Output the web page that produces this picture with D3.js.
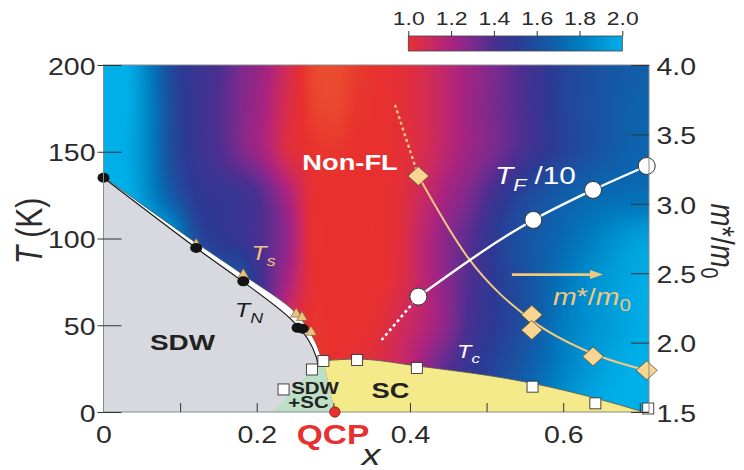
<!DOCTYPE html>
<html>
<head>
<meta charset="utf-8">
<script src="https://cdn.jsdelivr.net/npm/d3@7/dist/d3.min.js"></script>
<style>
  html, body { margin: 0; padding: 0; background: #ffffff; }
  svg { display: block; font-family: "Liberation Sans", Arial, Helvetica, sans-serif; }
</style>
</head>
<body>
<svg id="chart" width="744" height="470"></svg>
<script>
// ---------- axis ticks ----------
const xTickValues = [0, 0.2, 0.4, 0.6];
const xTickLabels = ["0", "0.2", "0.4", "0.6"];
const xMinorTicks = [0.1, 0.2, 0.3, 0.4, 0.5, 0.6, 0.7];
const tTickValues = [0, 50, 100, 150, 200];
const tTickLabels = ["0", "50", "100", "150", "200"];
const mTickValues = [1.5, 2.0, 2.5, 3.0, 3.5, 4.0];
const mTickLabels = ["1.5", "2.0", "2.5", "3.0", "3.5", "4.0"];
const cbTickValues = [1.0, 1.2, 1.4, 1.6, 1.8, 2.0];
const cbTickLabels = ["1.0", "1.2", "1.4", "1.6", "1.8", "2.0"];

// ---------- colour map for the exponent n ----------
const nStops  = [0.9, 1.0, 1.1, 1.2, 1.3, 1.4, 1.5, 1.6, 1.7, 1.8, 1.9, 2.0];
const nColors = ["#ec6a30", "#e8302e", "#cc2a5e", "#aa2380", "#7c2a8e", "#4a2f90",
                 "#2c3a94", "#1c4f9f", "#0c64ae", "#007cc0", "#0096d4", "#00afe8"];

// ---------- exponent n map (rows: T, columns: x) ----------
const gridX = [0, 0.03, 0.06, 0.09, 0.12, 0.15, 0.18, 0.21, 0.24, 0.27, 0.30, 0.33, 0.36,
               0.39, 0.42, 0.45, 0.48, 0.51, 0.54, 0.57, 0.60, 0.63, 0.66, 0.69, 0.72];
const gridT = [0, 25, 50, 75, 100, 125, 150, 175, 200];
const exponentN = [
  [2.0, 2.0, 2.0, 2.0, 1.8, 1.7, 1.6, 1.4, 1.1, 1.0, 1.0, 1.02, 1.05, 1.12, 1.25, 1.4, 1.5, 1.6, 1.7, 1.8, 1.9, 1.96, 2.0, 2.0, 2.0],
  [2.0, 2.0, 2.0, 2.0, 1.8, 1.7, 1.6, 1.4, 1.1, 1.0, 1.0, 1.02, 1.05, 1.12, 1.25, 1.38, 1.47, 1.55, 1.63, 1.72, 1.82, 1.9, 1.96, 2.0, 2.0],
  [2.0, 2.0, 2.0, 2.0, 1.8, 1.7, 1.6, 1.4, 1.1, 1.0, 1.0, 1.0, 1.02, 1.09, 1.17, 1.28, 1.42, 1.5, 1.58, 1.68, 1.8, 1.87, 1.92, 1.97, 2.0],
  [2.0, 2.0, 2.0, 1.9, 1.75, 1.65, 1.6, 1.4, 1.2, 1.02, 1.0, 1.0, 1.0, 1.05, 1.16, 1.28, 1.4, 1.5, 1.58, 1.67, 1.77, 1.86, 1.92, 1.97, 2.0],
  [2.0, 2.0, 2.0, 1.9, 1.6, 1.5, 1.46, 1.38, 1.25, 1.02, 1.0, 1.0, 1.0, 1.04, 1.16, 1.28, 1.38, 1.5, 1.6, 1.66, 1.72, 1.79, 1.86, 1.92, 1.95],
  [2.0, 2.0, 1.85, 1.65, 1.5, 1.47, 1.45, 1.36, 1.2, 1.02, 1.0, 1.0, 1.0, 1.03, 1.12, 1.22, 1.31, 1.43, 1.53, 1.61, 1.67, 1.71, 1.73, 1.74, 1.75],
  [2.0, 1.98, 1.82, 1.58, 1.47, 1.4, 1.3, 1.2, 1.05, 1.0, 0.99, 1.0, 1.0, 1.02, 1.07, 1.16, 1.24, 1.31, 1.39, 1.47, 1.54, 1.6, 1.65, 1.69, 1.71],
  [2.0, 2.0, 1.82, 1.58, 1.46, 1.39, 1.29, 1.2, 1.06, 0.98, 0.96, 0.99, 1.0, 1.02, 1.07, 1.15, 1.24, 1.31, 1.38, 1.46, 1.54, 1.6, 1.64, 1.68, 1.7],
  [2.0, 2.0, 1.8, 1.56, 1.46, 1.4, 1.3, 1.22, 1.08, 0.97, 0.95, 0.98, 1.0, 1.02, 1.07, 1.15, 1.23, 1.3, 1.38, 1.46, 1.54, 1.59, 1.63, 1.66, 1.68]
];

// ---------- phase boundaries (x, T in K) ----------
const tnPoints = [[0, 135], [0.121, 94.5], [0.1825, 75.3], [0.2533, 48.5], [0.2598, 48]];
const tsPoints = [[0.121, 97], [0.1825, 79.5], [0.2515, 57], [0.259, 55], [0.271, 46.5]];
const tnCurve = [[0, 135], [0.121, 94.5], [0.1825, 75], [0.2435, 54], [0.2675, 41.5], [0.2775, 31.9], [0.28, 27]];
const tsCurve = [[0, 135.5], [0.121, 97.5], [0.1825, 79], [0.25, 57.5], [0.275, 41.5], [0.2835, 31.9], [0.286, 27]];
const tcPoints = [[0.235, 13], [0.272, 24.5], [0.287, 29.4], [0.331, 30], [0.409, 25.4], [0.56, 14.6], [0.642, 5], [0.711, 2]];
const tcCurve = [[0.287, 29.5], [0.33, 30.5], [0.41, 26.5], [0.56, 16.5], [0.642, 8], [0.705, 0]];
const coexistEdge = [[0.221, 0], [0.277, 26.5], [0.287, 29.5]];
const qcp = [0.302, 0];

// ---------- Fermi temperature T_F/10 (K) ----------
const tfPoints = [[0.411, 66.5], [0.561, 110.7], [0.639, 128], [0.709, 141.8]];
const tfExtension = [[0.411, 66.5], [0.363, 41.5]];

// ---------- effective mass m*/m0 ----------
const mStarPoints = [[0.411, 3.2], [0.559, 2.2], [0.559, 2.09], [0.639, 1.9], [0.709, 1.8]];
const mStarCurve = [[0.411, 3.2], [0.476, 2.61], [0.559, 2.16], [0.639, 1.92], [0.709, 1.8]];
const mStarExtension = [[0.411, 3.2], [0.38, 3.72]];
const mStarArrow = [[0.533, 2.49], [0.652, 2.49]];

// ---------- setup ----------
const SX = 1.24;            // horizontal stretch of the lettering
const svg = d3.select("#chart");
const x = d3.scaleLinear().domain([0, 0.712]).range([103.5, 649]);
const y = d3.scaleLinear().domain([0, 200]).range([412, 65]);
const ym = d3.scaleLinear().domain([1.5, 4.0]).range([412, 65]);
const nColor = d3.scaleLinear().domain(nStops).range(nColors).clamp(true);

function cr(p0, p1, p2, p3, t) {
  const t2 = t * t, t3 = t2 * t;
  return 0.5 * (2 * p1 + (-p0 + p2) * t + (2 * p0 - 5 * p1 + 4 * p2 - p3) * t2 + (-p0 + 3 * p1 - 3 * p2 + p3) * t3);
}
function locate(arr, v) {
  let i = d3.bisectRight(arr, v) - 1;
  i = Math.max(0, Math.min(arr.length - 2, i));
  const t = Math.max(0, Math.min(1, (v - arr[i]) / (arr[i + 1] - arr[i])));
  return [i, t];
}
function nAt(xv, tv) {
  const [i, tx] = locate(gridX, xv);
  const [j, tt] = locate(gridT, tv);
  const row = k => {
    const r = exponentN[Math.max(0, Math.min(gridT.length - 1, k))];
    const c = q => r[Math.max(0, Math.min(gridX.length - 1, q))];
    return cr(c(i - 1), c(i), c(i + 1), c(i + 2), tx);
  };
  return cr(row(j - 1), row(j), row(j + 1), row(j + 2), tt);
}

// ---------- heat map ----------
const X0 = 103, Y0 = 65, W = 546, H = 347;
const cv = document.createElement("canvas");
cv.width = W; cv.height = H;
const ctx = cv.getContext("2d");
const img = ctx.createImageData(W, H);
const LUTN = 1101;
const lut = d3.range(LUTN).map(k => d3.rgb(nColor(0.9 + k * 0.001)));
for (let py = 0; py < H; py++) {
  const tv = y.invert(Y0 + py + 0.5);
  for (let px = 0; px < W; px++) {
    const xv = x.invert(X0 + px + 0.5);
    let k = Math.round((nAt(xv, tv) - 0.9) * 1000);
    k = Math.max(0, Math.min(LUTN - 1, k));
    const c = lut[k], o = (py * W + px) * 4;
    img.data[o] = c.r; img.data[o + 1] = c.g; img.data[o + 2] = c.b; img.data[o + 3] = 255;
  }
}
ctx.putImageData(img, 0, 0);
svg.append("image")
  .attr("x", X0).attr("y", Y0).attr("width", W).attr("height", H)
  .attr("preserveAspectRatio", "none")
  .attr("href", cv.toDataURL());

// ---------- phase regions ----------
const smoothT = d3.line().x(d => x(d[0])).y(d => y(d[1])).curve(d3.curveCatmullRom.alpha(0.5));
const monoT = d3.line().x(d => x(d[0])).y(d => y(d[1])).curve(d3.curveMonotoneX);
const straightT = d3.line().x(d => x(d[0])).y(d => y(d[1]));
const monoM = d3.line().x(d => x(d[0])).y(d => ym(d[1])).curve(d3.curveMonotoneX);
const straightM = d3.line().x(d => x(d[0])).y(d => ym(d[1]));

// SDW
svg.append("path")
  .attr("d", `M${x(0)},${y(0)}L` + smoothT(tnCurve).slice(1) + `L${x(qcp[0])},${y(0)}Z`)
  .attr("fill", "#d8d9de");
// SDW + SC
svg.append("path")
  .attr("d", straightT(coexistEdge.concat([qcp])) + "Z")
  .attr("fill", "#bcdfc6");
// SC dome
svg.append("path")
  .attr("d", `M${x(qcp[0])},${y(0)}L` + monoT(tcCurve).slice(1) + "Z")
  .attr("fill", "#f4ea8a");
svg.append("path")
  .attr("d", monoT(tcCurve))
  .attr("fill", "none").attr("stroke", "#5a5a5a").attr("stroke-width", 0.9);

// structural / magnetic transition band
svg.append("path")
  .attr("d", smoothT(tsCurve) + smoothT(tnCurve.slice().reverse()).replace(/^M/, "L") + "Z")
  .attr("fill", "#ffffff");
svg.append("path").attr("d", smoothT(tsCurve))
  .attr("fill", "none").attr("stroke", "#555").attr("stroke-width", 0.7);
svg.append("path").attr("d", smoothT(tnCurve))
  .attr("fill", "none").attr("stroke", "#1a1a1a").attr("stroke-width", 1.2);

// ---------- m*/m0 and T_F curves ----------
const tan = "#f2c77f";
svg.append("path").attr("d", straightM(mStarExtension))
  .attr("fill", "none").attr("stroke", tan).attr("stroke-width", 2.4).attr("stroke-dasharray", "3,3");
svg.append("path").attr("d", monoM(mStarCurve))
  .attr("fill", "none").attr("stroke", tan).attr("stroke-width", 2);
svg.append("path").attr("d", straightT(tfExtension))
  .attr("fill", "none").attr("stroke", "#ffffff").attr("stroke-width", 2.6).attr("stroke-dasharray", "3,3");
svg.append("path").attr("d", monoT(tfPoints))
  .attr("fill", "none").attr("stroke", "#ffffff").attr("stroke-width", 2.4);

// arrow pointing to the m*/m0 axis
{
  const [a, b] = mStarArrow;
  const ax = x(a[0]), bx = x(b[0]), ay = ym(a[1]);
  svg.append("line").attr("x1", ax).attr("x2", bx - 10).attr("y1", ay).attr("y2", ay)
    .attr("stroke", tan).attr("stroke-width", 2.6);
  svg.append("path").attr("d", `M${bx},${ay}L${bx - 13},${ay - 4.5}L${bx - 13},${ay + 4.5}Z`).attr("fill", tan);
}

// ---------- markers ----------
svg.selectAll(".ts").data(tsPoints).join("path")
  .attr("d", d => { const cx = x(d[0]), cy = y(d[1]); return `M${cx},${cy - 5.5}L${cx + 5.5},${cy + 4}L${cx - 5.5},${cy + 4}Z`; })
  .attr("fill", "#e9c27d").attr("stroke", "#6d5833").attr("stroke-width", 0.6);
svg.selectAll(".tn").data(tnPoints).join("ellipse")
  .attr("cx", d => x(d[0])).attr("cy", d => y(d[1])).attr("rx", 6).attr("ry", 5)
  .attr("fill", "#141414");
svg.selectAll(".tc").data(tcPoints).join("rect")
  .attr("x", d => x(d[0]) - 5.5).attr("y", d => y(d[1]) - 5.5).attr("width", 11).attr("height", 11)
  .attr("fill", "#ffffff").attr("stroke", "#333").attr("stroke-width", 0.9);
svg.selectAll(".tf").data(tfPoints).join("circle")
  .attr("cx", d => x(d[0])).attr("cy", d => y(d[1])).attr("r", 8.5)
  .attr("fill", "#ffffff").attr("stroke", "#333").attr("stroke-width", 1);
svg.selectAll(".ms").data(mStarPoints).join("path")
  .attr("d", d => { const cx = x(d[0]), cy = ym(d[1]); return `M${cx},${cy - 9.5}L${cx + 10.5},${cy}L${cx},${cy + 9.5}L${cx - 10.5},${cy}Z`; })
  .attr("fill", "#f8d591").attr("stroke", "#5e4c2e").attr("stroke-width", 0.8);

// ---------- frame and axes ----------
svg.append("rect").attr("x", x(0)).attr("y", y(200)).attr("width", x(0.712) - x(0)).attr("height", y(0) - y(200))
  .attr("fill", "none").attr("stroke", "#8a8a8a").attr("stroke-width", 1);

function styleAxis(g, size) {
  g.attr("font-family", "'Liberation Sans', Arial, sans-serif").attr("font-size", size).attr("color", "#333");
  g.select(".domain").remove();
  g.selectAll("text").attr("fill", "#2b2b2b").each(function () {
    const t = d3.select(this);
    const tx = +t.attr("x") || 0, ty = +t.attr("y") || 0;
    t.attr("x", null).attr("y", null).attr("transform", `translate(${tx},${ty}) scale(${SX},1)`);
  });
}

const gl = svg.append("g").attr("transform", `translate(${x(0)},0)`)
  .call(d3.axisLeft(y).tickValues(tTickValues).tickFormat((d, i) => tTickLabels[i])
    .tickSizeInner(-18).tickSizeOuter(0).tickPadding(8));
gl.selectAll(".tick line").attr("x1", -6);
styleAxis(gl, 23);
gl.selectAll("text").attr("dy", "0.4em");

const gr = svg.append("g").attr("transform", `translate(${x(0.712)},0)`)
  .call(d3.axisRight(ym).tickValues(mTickValues).tickFormat((d, i) => mTickLabels[i])
    .tickSizeInner(-18).tickSizeOuter(0).tickPadding(7.5));
styleAxis(gr, 23);
gr.selectAll("text").attr("dy", "0.4em");

const gbt = svg.append("g").attr("transform", `translate(0,${y(0)})`)
  .call(d3.axisBottom(x).tickValues(xMinorTicks).tickFormat("").tickSizeInner(-9).tickSizeOuter(0));
styleAxis(gbt, 23);
const gb = svg.append("g").attr("transform", `translate(0,${y(0)})`)
  .call(d3.axisBottom(x).tickValues(xTickValues).tickFormat((d, i) => xTickLabels[i])
    .tickSize(0).tickPadding(14.5));
styleAxis(gb, 23);

// QCP marker
svg.append("circle").attr("cx", x(qcp[0])).attr("cy", y(qcp[1])).attr("r", 5.2)
  .attr("fill", "#e8302e").attr("stroke", "#7a1a1a").attr("stroke-width", 0.8);

// ---------- lettering ----------
function stext(px, py, o) {
  const t = svg.append("text")
    .attr("transform", `translate(${px},${py}) scale(${SX},1)` + (o.rotate ? ` rotate(${o.rotate})` : ""))
    .attr("text-anchor", o.anchor || "start")
    .attr("font-size", o.size)
    .attr("font-weight", o.weight || "normal")
    .attr("fill", o.fill || "#222");
  let shift = 0;
  o.parts.forEach(p => {
    const ts = t.append("tspan").text(p.s);
    if (p.italic) ts.attr("font-style", "italic");
    const target = p.sub ? o.size * 0.28 : 0;
    if (target !== shift) { ts.attr("dy", target - shift); shift = target; }
    if (p.sub) ts.attr("font-size", o.size * 0.72);
  });
  return t;
}

stext(41.5, 231, { rotate: -90, anchor: "middle", size: 30, fill: "#2b2b2b",
  parts: [{ s: "T", italic: true }, { s: " (K)" }] });
stext(711, 241, { rotate: 90, anchor: "middle", size: 27.5, fill: "#2b2b2b",
  parts: [{ s: "m", italic: true }, { s: "*/" }, { s: "m", italic: true }, { s: "0", sub: true }] });
stext(371, 465, { anchor: "middle", size: 30, fill: "#2b2b2b", parts: [{ s: "x", italic: true }] });
stext(333, 444, { anchor: "middle", size: 27, weight: "bold", fill: "#e8302e", parts: [{ s: "QCP" }] });

stext(350, 170, { anchor: "middle", size: 22, weight: "bold", fill: "#ffffff", parts: [{ s: "Non-FL" }] });
stext(495, 184, { size: 24, fill: "#ffffff",
  parts: [{ s: "T", italic: true }, { s: "F", italic: true, sub: true }, { s: " /10" }] });
stext(553, 305, { size: 23, fill: tan,
  parts: [{ s: "m", italic: true }, { s: "*/" }, { s: "m", italic: true }, { s: "0", sub: true }] });
stext(457, 358, { size: 19, fill: "#ffffff",
  parts: [{ s: "T", italic: true }, { s: "c", italic: true, sub: true }] });
stext(251.5, 260, { size: 20, fill: "#f0c47c",
  parts: [{ s: "T", italic: true }, { s: "s", italic: true, sub: true }] });
stext(235, 317, { size: 20, fill: "#1e1e1e",
  parts: [{ s: "T", italic: true }, { s: "N", italic: true, sub: true }] });
stext(150, 350, { size: 22.5, weight: "bold", fill: "#222", parts: [{ s: "SDW" }] });
stext(315, 393.5, { anchor: "middle", size: 16.5, weight: "bold", fill: "#222", parts: [{ s: "SDW" }] });
stext(308.5, 408, { anchor: "middle", size: 16.5, weight: "bold", fill: "#222", parts: [{ s: "+SC" }] });
stext(390.5, 398, { anchor: "middle", size: 22, weight: "bold", fill: "#222", parts: [{ s: "SC" }] });

// ---------- colour bar ----------
const cb = d3.scaleLinear().domain([1, 2]).range([408.3, 622.3]);
const grad = svg.append("defs").append("linearGradient").attr("id", "cbGrad")
  .attr("x1", "0%").attr("x2", "100%").attr("y1", "0%").attr("y2", "0%");
nStops.filter(v => v >= 1).forEach(v => {
  grad.append("stop").attr("offset", `${(v - 1) * 100}%`).attr("stop-color", nColor(v));
});
svg.append("rect").attr("x", cb(1)).attr("y", 36).attr("width", cb(2) - cb(1)).attr("height", 15)
  .attr("fill", "url(#cbGrad)").attr("stroke", "#444").attr("stroke-width", 0.8);
const gc = svg.append("g").attr("transform", "translate(0,36)")
  .call(d3.axisTop(cb).tickValues(cbTickValues).tickFormat((d, i) => cbTickLabels[i])
    .tickSize(5).tickPadding(6));
styleAxis(gc, 18.5);
</script>
</body>
</html>
